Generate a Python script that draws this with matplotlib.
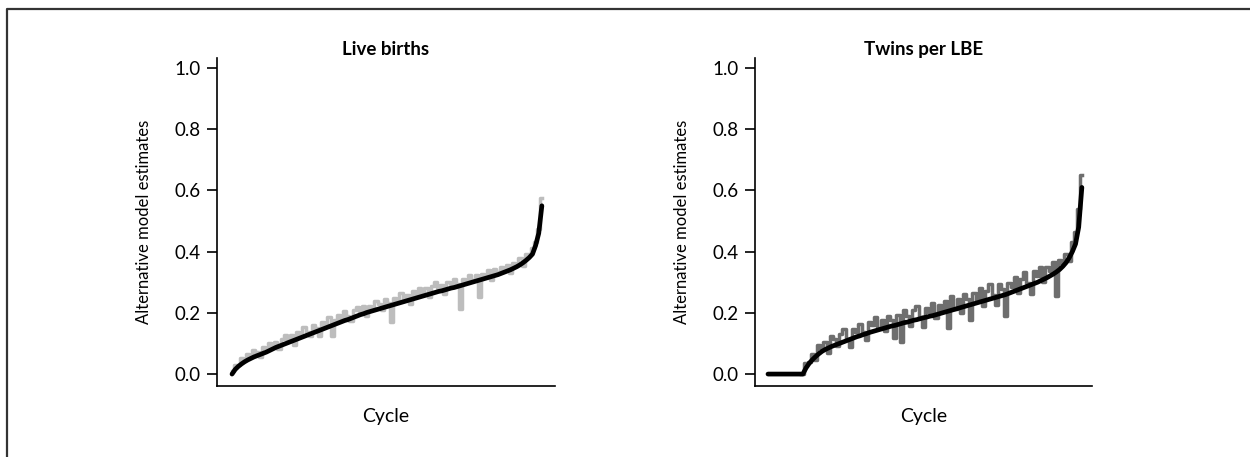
import numpy as np
import matplotlib
matplotlib.use("Agg")
import matplotlib.pyplot as plt
from matplotlib.lines import Line2D

plt.rcParams['font.family'] = ['Lato', 'DejaVu Sans']

# --- data (cycles sorted by the main model estimate) ---
live_main = [
    0.000, 0.015, 0.025, 0.033, 0.040, 0.046, 0.051, 0.056, 0.060, 0.064,
    0.068, 0.072, 0.077, 0.082, 0.087, 0.091, 0.095, 0.099, 0.103, 0.107,
    0.111, 0.115, 0.119, 0.123, 0.127, 0.131, 0.135, 0.139, 0.143, 0.147,
    0.151, 0.155, 0.159, 0.163, 0.167, 0.171, 0.175, 0.178, 0.182, 0.186,
    0.190, 0.194, 0.197, 0.201, 0.204, 0.207, 0.210, 0.213, 0.216, 0.219,
    0.222, 0.225, 0.228, 0.231, 0.234, 0.237, 0.240, 0.243, 0.246, 0.249,
    0.252, 0.255, 0.258, 0.261, 0.264, 0.267, 0.270, 0.272, 0.275, 0.278,
    0.281, 0.283, 0.286, 0.289, 0.292, 0.295, 0.298, 0.301, 0.304, 0.307,
    0.310, 0.313, 0.316, 0.319, 0.322, 0.325, 0.329, 0.333, 0.337, 0.341,
    0.346, 0.351, 0.357, 0.364, 0.372, 0.381, 0.392, 0.420, 0.460, 0.550,
]
live_alt = [
    0.010, 0.030, 0.030, 0.053, 0.050, 0.064, 0.055, 0.078, 0.072, 0.056,
    0.088, 0.084, 0.102, 0.088, 0.105, 0.081, 0.115, 0.127, 0.111, 0.127,
    0.096, 0.137, 0.129, 0.153, 0.139, 0.126, 0.160, 0.151, 0.123, 0.169,
    0.161, 0.185, 0.124, 0.178, 0.192, 0.176, 0.205, 0.190, 0.172, 0.208,
    0.220, 0.202, 0.222, 0.189, 0.224, 0.217, 0.240, 0.228, 0.208, 0.244,
    0.232, 0.170, 0.250, 0.243, 0.264, 0.242, 0.260, 0.228, 0.271, 0.261,
    0.282, 0.263, 0.280, 0.251, 0.289, 0.302, 0.280, 0.292, 0.263, 0.300,
    0.293, 0.311, 0.294, 0.214, 0.312, 0.305, 0.323, 0.306, 0.324, 0.252,
    0.328, 0.321, 0.341, 0.309, 0.342, 0.335, 0.351, 0.338, 0.357, 0.329,
    0.364, 0.359, 0.379, 0.354, 0.392, 0.393, 0.412, 0.430, 0.475, 0.575,
]
twins_main = [
    0.000, 0.000, 0.000, 0.000, 0.000, 0.000, 0.000, 0.000, 0.000, 0.000,
    0.000, 0.000, 0.020, 0.035, 0.047, 0.057, 0.066, 0.074, 0.080, 0.085,
    0.090, 0.094, 0.098, 0.102, 0.106, 0.110, 0.114, 0.118, 0.122, 0.125,
    0.129, 0.132, 0.136, 0.139, 0.142, 0.145, 0.148, 0.151, 0.154, 0.157,
    0.159, 0.162, 0.165, 0.168, 0.170, 0.173, 0.176, 0.178, 0.181, 0.184,
    0.186, 0.189, 0.191, 0.194, 0.197, 0.200, 0.203, 0.206, 0.209, 0.212,
    0.215, 0.218, 0.221, 0.224, 0.227, 0.230, 0.233, 0.236, 0.239, 0.242,
    0.245, 0.248, 0.251, 0.254, 0.257, 0.260, 0.264, 0.268, 0.272, 0.276,
    0.280, 0.284, 0.288, 0.292, 0.296, 0.300, 0.305, 0.310, 0.315, 0.321,
    0.327, 0.334, 0.342, 0.352, 0.364, 0.380, 0.400, 0.425, 0.480, 0.610,
]
twins_alt = [
    np.nan, np.nan, np.nan, np.nan, np.nan, np.nan, np.nan, np.nan, np.nan, np.nan,
    np.nan, 0.000, 0.035, 0.040, 0.067, 0.047, 0.096, 0.084, 0.105, 0.070,
    0.125, 0.114, 0.093, 0.132, 0.146, 0.115, 0.089, 0.148, 0.137, 0.165,
    0.139, 0.112, 0.171, 0.159, 0.187, 0.150, 0.178, 0.141, 0.189, 0.177,
    0.119, 0.192, 0.105, 0.208, 0.190, 0.158, 0.211, 0.223, 0.186, 0.154,
    0.216, 0.204, 0.231, 0.184, 0.227, 0.212, 0.238, 0.150, 0.254, 0.212,
    0.245, 0.198, 0.261, 0.244, 0.177, 0.265, 0.243, 0.281, 0.224, 0.272,
    0.295, 0.258, 0.226, 0.294, 0.277, 0.190, 0.299, 0.283, 0.317, 0.266,
    0.310, 0.334, 0.298, 0.262, 0.336, 0.320, 0.350, 0.300, 0.350, 0.336,
    0.367, 0.254, 0.372, 0.362, 0.394, 0.370, 0.430, 0.465, 0.540, 0.650,
]
yticks = [0.0, 0.2, 0.4, 0.6, 0.8, 1.0]
titles = ["Live births", "Twins per LBE"]

fig = plt.figure(figsize=(12.5, 4.57), dpi=100)

# frame line (top and left edges only are visible in the picture)
fig.add_artist(Line2D([7 / 1250, 7 / 1250, 1.0], [0.0, 1 - 9 / 457, 1 - 9 / 457],
                      transform=fig.transFigure, color='#333333', lw=1.6))

panels = [
    (live_main, live_alt, '#bdbdbd', [217, 555], (-4.8, 103.2)),
    (twins_main, twins_alt, '#6e6e6e', [755, 1092], (-4.1, 102.2)),
]
for k, (main, alt, gcol, xr, xl) in enumerate(panels):
    ax = fig.add_axes([xr[0] / 1250, 1 - 386 / 457, (xr[1] - xr[0]) / 1250, (386 - 58) / 457])
    idx = np.arange(len(main))
    ax.plot(idx, alt, color=gcol, lw=2.5, drawstyle='steps-mid')
    ax.plot(idx, main, color='black', lw=3.4, solid_capstyle='round')
    ax.set_xlim(*xl)
    ax.set_ylim(-0.039, 1.033)
    ax.set_yticks(yticks)
    ax.set_yticklabels(['%.1f' % v for v in yticks], fontsize=13.5)
    ax.set_xticks([])
    for s in ['top', 'right']:
        ax.spines[s].set_visible(False)
    for s in ['left', 'bottom']:
        ax.spines[s].set_linewidth(1.2)
    ax.tick_params(axis='y', length=7, width=1.2, pad=5)
    ax.set_title(titles[k], fontsize=13.5, fontweight='bold', pad=2)
    ax.set_xlabel('Cycle', fontsize=14, labelpad=16)
    ax.set_ylabel('Alternative model estimates', fontsize=12, labelpad=16)

fig.savefig('out.png', dpi=100)
